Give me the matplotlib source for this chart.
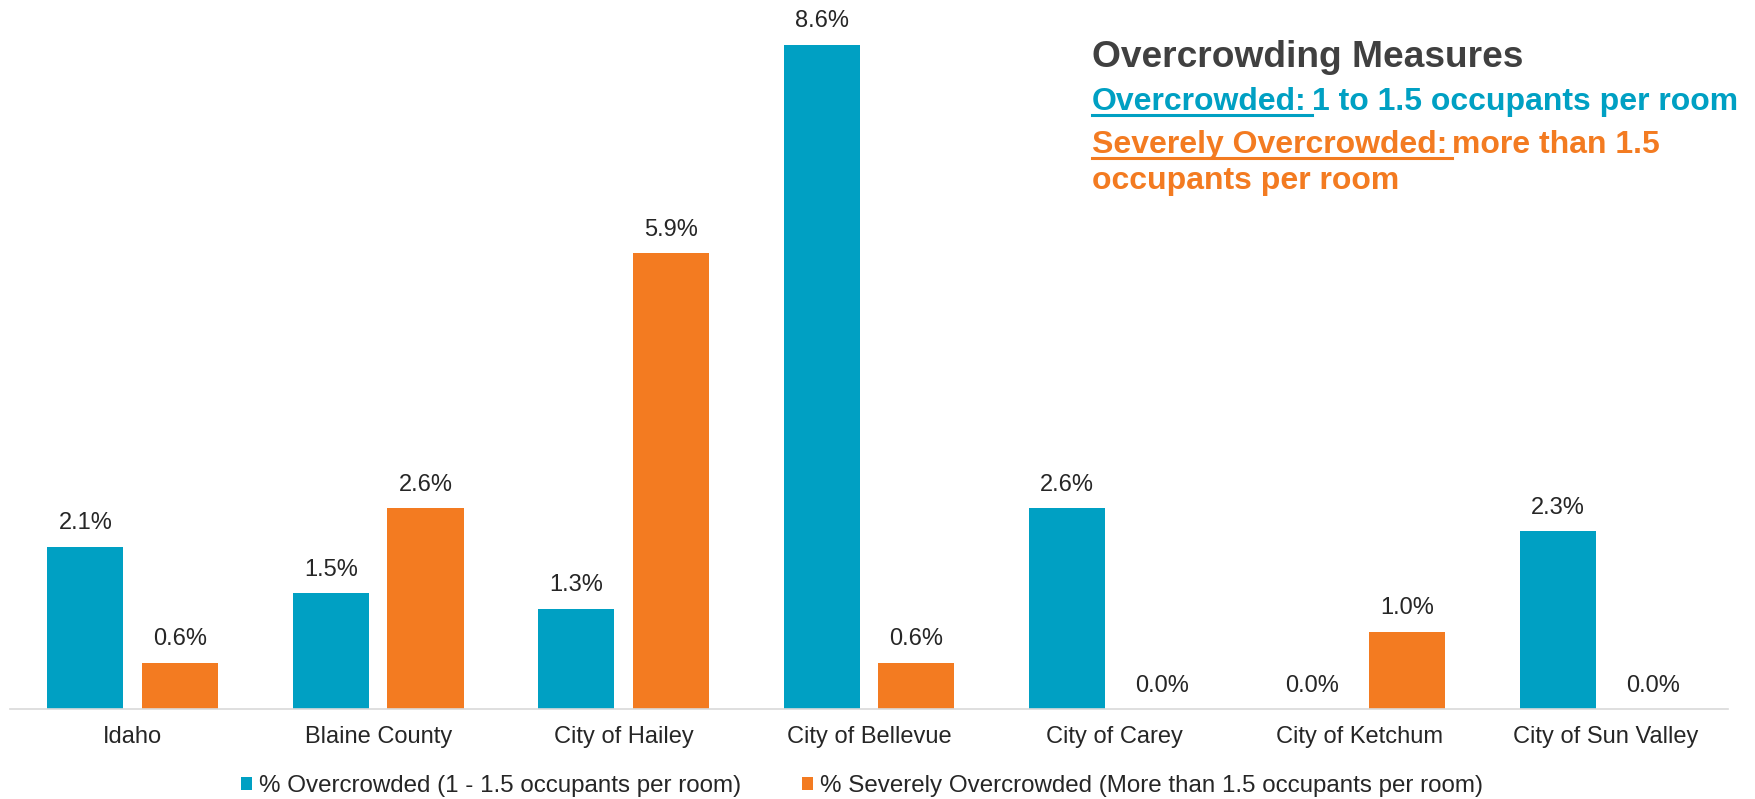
"""Overcrowding measures by area: grouped bars with an annotation block."""
import numpy as np
import matplotlib
matplotlib.use('Agg')
import matplotlib.pyplot as plt
from matplotlib.patches import Patch
from matplotlib.lines import Line2D

plt.rcParams['font.family'] = ['Liberation Sans', 'DejaVu Sans']

areas = ['Idaho', 'Blaine County', 'City of Hailey', 'City of Bellevue',
         'City of Carey', 'City of Ketchum', 'City of Sun Valley']
overcrowded = [2.1, 1.5, 1.3, 8.6, 2.6, 0.0, 2.3]
severe = [0.6, 2.6, 5.9, 0.6, 0.0, 1.0, 0.0]
series_names = ['% Overcrowded (1 - 1.5 occupants per room)',
                '% Severely Overcrowded (More than 1.5 occupants per room)']

TEAL = '#00A0C3'
ORANGE = '#F37B21'
DARK = '#404040'
LABEL = '#262626'

W, H = 1756, 799
fig = plt.figure(figsize=(W / 100, H / 100), dpi=100)
ax = fig.add_axes([10 / W, (H - 709) / H, 1718 / W, 709 / H])

x = np.arange(len(areas))
off = 0.193
bw = 0.31
b1 = ax.bar(x - off, overcrowded, width=bw, color=TEAL, zorder=2)
b2 = ax.bar(x + off, severe, width=bw, color=ORANGE, zorder=2)

for bars, vals in ((b1, overcrowded), (b2, severe)):
    for rect, v in zip(bars, vals):
        ax.annotate(f'{v:.1f}%', (rect.get_x() + rect.get_width() / 2, v),
                    xytext=(0, 12.5), textcoords='offset points',
                    ha='center', va='baseline', fontsize=17, color=LABEL)

ax.set_xlim(-0.5, len(areas) - 0.5)
ax.set_ylim(0, 9.18)
ax.set_xticks(x)
ax.set_xticklabels(areas, fontsize=17, color=LABEL)
ax.tick_params(axis='x', length=0, pad=12)
ax.set_yticks([])
for s in ('top', 'right', 'left'):
    ax.spines[s].set_visible(False)
ax.spines['bottom'].set_color('#D9D9D9')
ax.spines['bottom'].set_linewidth(1.2)

# ── Legend ────────────────────────────────────────────────────
handles = [Patch(facecolor=TEAL), Patch(facecolor=ORANGE)]
fig.legend(handles, series_names, loc='center', ncol=2,
           bbox_to_anchor=(0.491, 1 - 786 / H), frameon=False,
           fontsize=17.4, handlelength=0.46, handleheight=0.46,
           handletextpad=0.3, columnspacing=2.5, labelcolor=LABEL)

# ── Annotation block with underlined headings ────────────────
x0 = 1092 / W
fig.text(x0, 1 - 67 / H, 'Overcrowding Measures', fontsize=26.7,
         fontweight='bold', color=DARK, va='baseline', ha='left')

fig.canvas.draw()
renderer = fig.canvas.get_renderer()


def underlined_line(y_px, head, rest, color, size=23):
    y = 1 - y_px / H
    t1 = fig.text(x0, y, head, fontsize=size, fontweight='bold',
                  color=color, va='baseline', ha='left')
    ext = t1.get_window_extent(renderer)
    gap = 0.16 * size * 100 / 72
    x1 = (ext.x1 + gap) / W
    fig.text(x1, y, rest, fontsize=size, fontweight='bold',
             color=color, va='baseline', ha='left')
    uy = y - 5 / H
    fig.add_artist(Line2D([ext.x0 / W, x1], [uy, uy], color=color,
                          linewidth=2.2, transform=fig.transFigure))


underlined_line(110, 'Overcrowded:', '1 to 1.5 occupants per room', TEAL)
underlined_line(153, 'Severely Overcrowded:', 'more than 1.5', ORANGE)
fig.text(x0, 1 - 189 / H, 'occupants per room', fontsize=23,
         fontweight='bold', color=ORANGE, va='baseline', ha='left')

fig.savefig('out.png', dpi=100)
plt.close(fig)
